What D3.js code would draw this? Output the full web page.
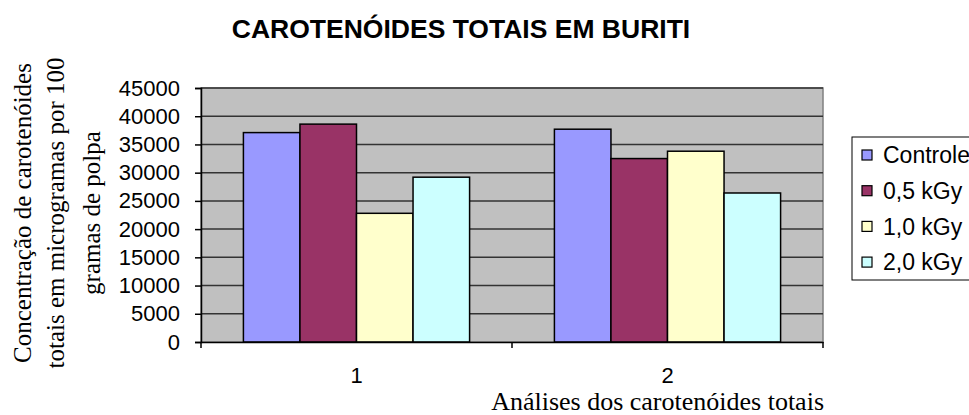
<!DOCTYPE html>
<html>
<head>
<meta charset="utf-8">
<script src="https://cdn.jsdelivr.net/npm/d3@7"></script>
<style>
  body { margin: 0; background: #fff; }
  svg { display: block; }
</style>
</head>
<body>
<div id="viz_area"></div>
<script>
// chart data
var categories = ["1", "2"];
var seriesNames = ["Controle", "0,5 kGy", "1,0 kGy", "2,0 kGy"];
var seriesColors = ["#9999FF", "#993366", "#FFFFCC", "#CCFFFF"];
var controle = [37100, 37700];
var dose05 = [38600, 32500];
var dose10 = [22800, 33800];
var dose20 = [29200, 26400];
var yTicks = [0, 5000, 10000, 15000, 20000, 25000, 30000, 35000, 40000, 45000];

function __init__() {
    barChart();
}

function barChart() {
    var w = 969;
    var h = 415;
    var plot = { left: 201, right: 823, top: 88, bottom: 342 };

    var seriesValues = [controle, dose05, dose10, dose20];

    var svg = d3.select("#viz_area")
                .append("svg")
                .attr("width", w)
                .attr("height", h);

    // scales
    var x0 = d3.scaleBand()
               .domain(categories)
               .range([plot.left, plot.right])
               .padding(0);
    // excel style gap width 150% -> bars take 4/(4+1.5) of the band
    var gap = x0.bandwidth() * 1.5 / 5.5;
    var x1 = d3.scaleBand()
               .domain(seriesNames)
               .range([gap / 2, x0.bandwidth() - gap / 2])
               .padding(0);
    var y = d3.scaleLinear()
              .domain([0, 45000])
              .range([plot.bottom, plot.top]);

    // plot area background
    svg.append("rect")
       .attr("x", plot.left)
       .attr("y", plot.top)
       .attr("width", plot.right - plot.left)
       .attr("height", plot.bottom - plot.top)
       .style("fill", "#C0C0C0")
       .style("stroke", "#808080")
       .style("stroke-width", 1.5);

    // gridlines
    svg.append("g")
       .selectAll("line")
       .data(yTicks.slice(1))
       .enter()
       .append("line")
       .attr("x1", plot.left)
       .attr("x2", plot.right)
       .attr("y1", (d) => y(d))
       .attr("y2", (d) => y(d))
       .style("stroke", "#333")
       .style("stroke-width", 1.5);

    // bars
    var groups = svg.append("g")
                    .selectAll("g")
                    .data(categories)
                    .enter()
                    .append("g")
                    .attr("transform", (d) => "translate(" + x0(d) + ",0)");

    groups.selectAll("rect")
          .data((d, i) => seriesNames.map((s, j) => ({ s: s, v: seriesValues[j][i], c: seriesColors[j] })))
          .enter()
          .append("rect")
          .attr("x", (d) => x1(d.s))
          .attr("y", (d) => y(d.v))
          .attr("width", x1.bandwidth())
          .attr("height", (d) => y(0) - y(d.v))
          .style("fill", (d) => d.c)
          .style("stroke", "#000")
          .style("stroke-width", 1.5);

    // y axis
    var yAxis = d3.axisLeft(y)
                  .tickValues(yTicks)
                  .tickSize(6)
                  .tickPadding(15)
                  .tickFormat(d3.format("d"));
    var gy = svg.append("g")
                .attr("transform", "translate(" + plot.left + ",0)")
                .call(yAxis);
    gy.select(".domain").style("stroke", "#000").style("stroke-width", 1.5);
    gy.selectAll(".tick line").style("stroke", "#000").style("stroke-width", 1.5);
    gy.selectAll("text")
      .style("font-family", "'Liberation Sans', Arial, sans-serif")
      .style("font-size", "22px")
      .style("fill", "#000");

    // x axis (ticks at band edges, labels at band centres)
    var xAxis = d3.axisBottom(x0).tickSize(0).tickPadding(30);
    var gx = svg.append("g")
                .attr("transform", "translate(0," + plot.bottom + ")")
                .call(xAxis);
    gx.select(".domain").style("stroke", "#000").style("stroke-width", 1.5);
    gx.selectAll("text")
      .attr("dy", "0.5em")
      .style("font-family", "'Liberation Sans', Arial, sans-serif")
      .style("font-size", "22px")
      .style("fill", "#000");
    var edges = categories.map((c) => x0(c)).concat([plot.right]);
    gx.selectAll(".edge")
      .data(edges)
      .enter()
      .append("line")
      .attr("class", "edge")
      .attr("x1", (d) => d)
      .attr("x2", (d) => d)
      .attr("y1", 0)
      .attr("y2", 6)
      .style("stroke", "#000")
      .style("stroke-width", 1.5);

    // title
    svg.append("text")
       .attr("x", 461)
       .attr("y", 38)
       .attr("text-anchor", "middle")
       .style("font-family", "'Liberation Sans', Arial, sans-serif")
       .style("font-weight", "bold")
       .style("font-size", "26.5px")
       .text("CAROTENÓIDES TOTAIS EM BURITI");

    // y axis title, three lines
    var yTitle = ["Concentração de carotenóides", "totais em microgramas por 100", "gramas de polpa"];
    var yTitleX = [22, 55, 91];
    svg.append("g")
       .selectAll("text")
       .data(yTitle)
       .enter()
       .append("text")
       .attr("transform", (d, i) => "translate(" + yTitleX[i] + "," + 213 + ") rotate(-90)")
       .attr("text-anchor", "middle")
       .attr("dy", "0.35em")
       .style("font-family", "'Liberation Serif', 'Times New Roman', serif")
       .style("font-size", "25px")
       .text((d) => d);

    // x axis title
    svg.append("text")
       .attr("x", 824)
       .attr("y", 410)
       .attr("text-anchor", "end")
       .style("font-family", "'Liberation Serif', 'Times New Roman', serif")
       .style("font-size", "26px")
       .text("Análises dos carotenóides totais");

    // legend
    var legend = svg.append("g");
    legend.append("rect")
          .attr("x", 852)
          .attr("y", 137)
          .attr("width", 140)
          .attr("height", 143)
          .style("fill", "#fff")
          .style("stroke", "#000")
          .style("stroke-width", 1);
    var items = legend.selectAll(".item")
                      .data(seriesNames)
                      .enter()
                      .append("g")
                      .attr("class", "item")
                      .attr("transform", (d, i) => "translate(862," + (155 + i * 35.7) + ")");
    items.append("rect")
         .attr("x", 0)
         .attr("y", -5)
         .attr("width", 10)
         .attr("height", 10)
         .style("fill", (d, i) => seriesColors[i])
         .style("stroke", "#000")
         .style("stroke-width", 1.2);
    items.append("text")
         .attr("x", 21)
         .attr("dy", "0.36em")
         .style("font-family", "'Liberation Sans', Arial, sans-serif")
         .style("font-size", "23px")
         .text((d) => d);
}

window.onload = __init__;
</script>
</body>
</html>
